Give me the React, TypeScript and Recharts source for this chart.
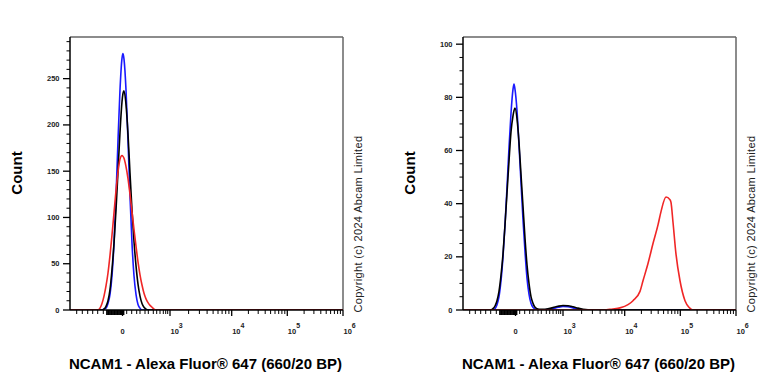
import React from "react"
import { LineChart, Line, XAxis, YAxis, ReferenceLine } from "recharts"

// x values are display positions on the biexponential axis (0 = left edge, 273 = 10^6)
const xLeft = [0, 26, 28, 30, 32, 34, 36, 38, 40, 42, 44, 46, 48, 50, 52, 53, 54, 56, 58, 60, 62, 64, 66, 68, 70, 72, 74, 76, 78, 80, 82, 84, 86, 90, 273]
const blueLeft = [0, 0, 0, 0, 0, 1, 2, 7, 17, 37, 72, 123, 183, 238, 272, 277, 271, 238, 183, 123, 72, 37, 17, 6, 2, 0, 0, 0, 0, 0, 0, 0, 0, 0, 0]
const blackLeft = [0, 0, 0, 0, 0, 1, 4, 10, 22, 44, 72, 108, 150, 192, 225, 234, 237, 222, 190, 148, 108, 74, 48, 28, 15, 7, 3, 1, 0, 0, 0, 0, 0, 0, 0]
const redLeft = [0, 0, 0, 2, 7, 15, 26, 40, 59, 81, 105, 129, 149, 163, 167, 166, 164, 155, 142, 125, 106, 87, 69, 52, 38, 27, 18, 12, 8, 5, 3, 1, 0, 0, 0]

const xRight = [0, 28, 30, 32, 34, 36, 38, 40, 42, 44, 46, 48, 50, 51, 52, 54, 56, 58, 60, 62, 64, 66, 68, 70, 72, 74, 76, 80, 85, 90, 95, 100, 105, 110, 115, 120, 125, 140, 145, 150, 157, 165, 170, 177, 180, 185, 190, 195, 198, 203, 207, 208, 210, 213, 217, 222, 226, 230, 240, 273]
const blueRight = [0, 0, 0, 0.5, 2, 5, 11, 20, 32, 46, 61, 74, 83, 85, 83, 75, 62, 48, 34, 22, 12, 6, 2.5, 1, 0.3, 0, 0, 0, 0.2, 0.5, 1.0, 1.3, 1.2, 0.8, 0.4, 0.1, 0, 0, 0, 0, 0, 0, 0, 0, 0, 0, 0, 0, 0, 0, 0, 0, 0, 0, 0, 0, 0, 0, 0, 0]
const blackRight = [0, 0, 0.5, 1.5, 3.5, 7, 13, 21, 32, 44, 56, 67, 73, 75, 76, 72, 63, 51, 39, 27, 17, 10, 5, 2.5, 1, 0.5, 0.3, 0.3, 0.5, 0.9, 1.4, 1.7, 1.6, 1.2, 0.7, 0.3, 0.1, 0, 0, 0, 0, 0, 0, 0, 0, 0, 0, 0, 0, 0, 0, 0, 0, 0, 0, 0, 0, 0, 0, 0]
const redRight = [0, 0, 0, 0, 0, 0, 0, 0, 0, 0, 0, 0, 0, 0, 0, 0, 0, 0, 0, 0, 0, 0, 0, 0, 0, 0, 0, 0, 0, 0, 0, 0, 0, 0, 0, 0, 0, 0, 0.2, 0.4, 0.8, 2, 3.5, 7, 11, 17.5, 25, 32, 37, 42.5, 41.5, 40.5, 33, 21, 11, 3.5, 1, 0, 0, 0]

const xMajorTicks = [52.5, 100, 161.7, 217.3, 273]
const xMajorLabels = ["0", "3", "4", "5", "6"]
const xDenseTicks = [37, 38.5, 40, 41.5, 43, 44.5, 46, 47.5, 49, 50.5, 51.5, 53.5]
const xMinorTicks = [6.7, 12.3, 17.7, 22.7, 27.7, 33.3, 56.7, 61.7, 66.7, 70, 75, 78.3, 83.3, 86.7, 90, 93.3, 95.7, 97.7,
  118.6, 129.4, 137.1, 143.1, 148, 152.1, 155.7, 158.9, 178.4, 188.2, 195.2, 200.6, 205, 208.7, 211.9, 214.8,
  234.1, 243.9, 250.8, 256.2, 260.6, 264.4, 267.6, 270.4]

const yLeftTicks = [0, 10, 20, 30, 40, 50, 60, 70, 80, 90, 100, 110, 120, 130, 140, 150, 160, 170, 180, 190, 200, 210, 220, 230, 240, 250, 260, 270, 280, 290]
const yRightTicks = [0, 5, 10, 15, 20, 25, 30, 35, 40, 45, 50, 55, 60, 65, 70, 75, 80, 85, 90, 95, 100]

const allXTicks = [...xMinorTicks, ...xDenseTicks, ...xMajorTicks].sort((a, b) => a - b)
const FONT = "'Liberation Sans', Arial, sans-serif"

function XTick(props: any) {
  const { x, y, payload } = props
  const v = payload.value
  const mi = xMajorTicks.indexOf(v)
  if (mi >= 0) {
    const lab = xMajorLabels[mi]
    return (
      <g>
        <line x1={x} y1={y} x2={x} y2={y + 6} stroke="#000" strokeWidth={1.3} />
        {lab === "0" ? (
          <text x={x} y={y + 24} textAnchor="middle" fontSize={7.5} fontWeight="bold" fontFamily={FONT} fill="#222">0</text>
        ) : (
          <text x={x + 0.5} y={y + 24} textAnchor="start" fontSize={7.5} fontWeight="bold" fontFamily={FONT} fill="#222">
            10<tspan dy={-6} fontSize={7}>{lab}</tspan>
          </text>
        )}
      </g>
    )
  }
  const dense = xDenseTicks.indexOf(v) >= 0
  return <line x1={x} y1={y} x2={x} y2={y + (dense ? 5 : 4)} stroke="#000" strokeWidth={dense ? 1.8 : 1} />
}

function makeYTick(step: number) {
  return (props: any) => {
    const { x, y, payload } = props
    const major = payload.value % step === 0
    return (
      <g>
        <line x1={x - (major ? 7 : 3.5)} y1={y} x2={x} y2={y} stroke="#000" strokeWidth={major ? 1.3 : 1} />
        {major && (
          <text x={x - 10.5} y={y} textAnchor="end" dominantBaseline="central" fontSize={7.5} fontWeight="bold" fontFamily={FONT} fill="#222">
            {payload.value}
          </text>
        )}
      </g>
    )
  }
}

interface PanelProps {
  left: number
  width: number
  xs: number[]
  blue: number[]
  black: number[]
  red: number[]
  yMax: number
  yTicks: number[]
  yStep: number
}

function Panel({ left, width, xs, blue, black, red, yMax, yTicks, yStep }: PanelProps) {
  const data = xs.map((x, i) => ({ x, blue: blue[i], black: black[i], red: red[i] }))
  const cx = left + 70 + 273 / 2
  return (
    <>
      <div style={{ position: "absolute", left: left, top: 0 }}>
        <LineChart width={width} height={384} data={data} margin={{ top: 37, right: width - 343, bottom: 44, left: 0 }}>
          <XAxis dataKey="x" type="number" domain={[0, 273]} ticks={allXTicks} interval={0} tick={XTick}
            tickLine={false} tickSize={0} tickMargin={0} height={30} axisLine={{ stroke: "#000", strokeWidth: 1.5 }} allowDataOverflow />
          <YAxis type="number" domain={[0, yMax]} ticks={yTicks} interval={0} tick={makeYTick(yStep)}
            tickLine={false} tickSize={0} tickMargin={0} width={70} axisLine={{ stroke: "#000", strokeWidth: 1.5 }} allowDataOverflow />
          <ReferenceLine y={yMax} stroke="#666" strokeWidth={1.5} />
          <ReferenceLine x={273} stroke="#666" strokeWidth={1.5} />
          <Line type="monotone" dataKey="blue" stroke="#1a1aff" strokeWidth={1.6} dot={false} isAnimationActive={false} />
          <Line type="monotone" dataKey="black" stroke="#000" strokeWidth={1.6} dot={false} isAnimationActive={false} />
          <Line type="monotone" dataKey="red" stroke="#f02626" strokeWidth={1.6} dot={false} isAnimationActive={false} />
        </LineChart>
      </div>
      <div style={{ position: "absolute", left: left + 15.5, top: 173, transform: "translate(-50%, -50%) rotate(-90deg)",
        fontFamily: FONT, fontWeight: "bold", fontSize: 15, whiteSpace: "nowrap", color: "#000" }}>Count</div>
      <div style={{ position: "absolute", left: cx - 1, top: 363, transform: "translate(-50%, -50%)",
        fontFamily: FONT, fontWeight: "bold", fontSize: 15, whiteSpace: "nowrap", color: "#000" }}>NCAM1 - Alexa Fluor® 647 (660/20 BP)</div>
      <div style={{ position: "absolute", left: left + 358, top: 224, transform: "translate(-50%, -50%) rotate(-90deg)",
        fontFamily: FONT, fontSize: 11, letterSpacing: 0.35, whiteSpace: "nowrap", color: "#222" }}>Copyright (c) 2024 Abcam Limited</div>
    </>
  )
}

export default function App() {
  return (
    <div style={{ position: "absolute", left: 0, top: 0, width: 768, height: 384, background: "#fff", overflow: "hidden" }}>
      <Panel left={0} width={384} xs={xLeft} blue={blueLeft} black={blackLeft} red={redLeft} yMax={295} yTicks={yLeftTicks} yStep={50} />
      <Panel left={393} width={375} xs={xRight} blue={blueRight} black={blackRight} red={redRight} yMax={102.7} yTicks={yRightTicks} yStep={20} />
    </div>
  )
}
